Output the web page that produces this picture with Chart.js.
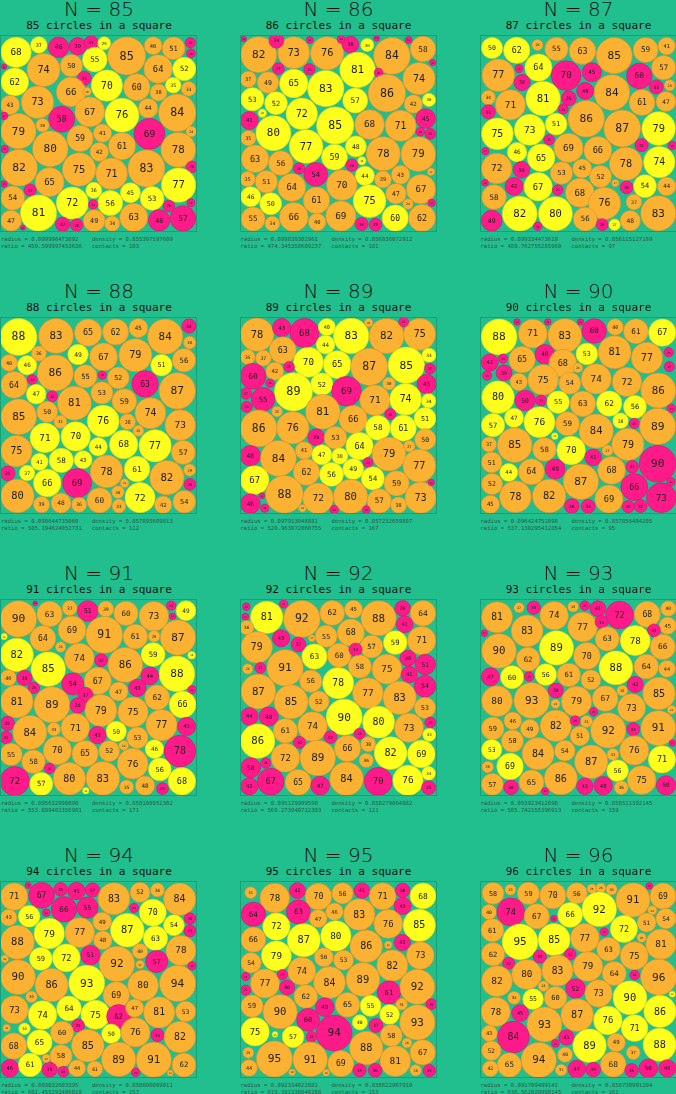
<!DOCTYPE html>
<html><head><meta charset="utf-8">
<script src="https://cdn.jsdelivr.net/npm/chart.js@4/dist/chart.umd.min.js"></script>
<style>
html,body{margin:0;padding:0;background:#21BE8E;width:676px;height:1094px;overflow:hidden;position:relative;font-family:'DejaVu Sans',sans-serif}
.t{position:absolute;width:196px;text-align:center;color:#111;font-size:20px;font-family:'DejaVu Sans';font-weight:300;line-height:20px}
.s{position:absolute;width:196px;text-align:center;color:#111;font-size:11px;font-family:'DejaVu Sans Mono',monospace;line-height:11px}
.f{position:absolute;width:196px;color:#2b5a48;font-size:5.6px;font-family:'DejaVu Sans Mono',monospace;line-height:7px;white-space:pre}
canvas{position:absolute}
</style></head><body>
<script>
const panelN=[85,86,87,88,89,90,91,92,93,94,95,96];
const radiusScale=[0.666,0.655,0.635,0.625,0.64,0.61,0.604,0.598,0.575,0.575,0.568,0.562];
const frameX=[[3,585],[8,592],[14,598]];
const footerRadius=['0.099996473892','0.099839302961','0.099334473619','0.098644735060','0.097913048881','0.096424751098','0.095632990090','0.095129999590','0.093923412090','0.093032603395','0.092334022881','0.091709499141'];
const footerDensity=['0.855397597609','0.856036072912','0.856115127189','0.857095609813','0.857232659807','0.857856484205','0.858100952302','0.858279064082','0.858511392145','0.858600009011','0.858622967910','0.858730991204'];
const footerRatio=['459.599997453636','474.345358609237','489.762755285960','505.194624052731','520.963072060755','537.130295412854','553.099402356981','569.273940712303','585.742155396913','602.455293406018','619.391330040288','636.562020998145'];
const footerContacts=[183,181,97,112,167,95,171,121,159,157,153,161];

const c85=[[68,48,67,'Y'],[37,116,45,'Y'],[46,175,52,'M'],[39,232,49,'M'],[31,272,38,'M'],[29,311,40,'Y'],[85,378,78,'O'],[40,457,47,'O'],[51,518,55,'O'],[23,568,38,'M'],[20,570,70,'M'],[74,130,120,'O'],[50,213,107,'O'],[55,283,89,'Y'],[64,472,117,'O'],[52,550,117,'Y'],[62,44,156,'Y'],[31,252,145,'M'],[70,319,167,'Y'],[60,408,172,'O'],[35,517,166,'Y'],[38,473,188,'O'],[33,563,177,'O'],[66,212,186,'O'],[19,260,185,'O'],[73,112,217,'O'],[43,30,225,'O'],[67,268,246,'O'],[76,364,256,'Y'],[44,442,235,'O'],[84,529,249,'O'],[58,184,268,'M'],[30,127,286,'O'],[79,55,304,'O'],[69,446,312,'M'],[59,239,326,'O'],[41,306,310,'O'],[24,571,305,'O'],[80,150,357,'O'],[61,364,349,'O'],[42,296,366,'O'],[78,532,360,'O'],[82,57,414,'O'],[75,236,419,'O'],[71,333,432,'O'],[83,437,416,'O'],[26,573,411,'M'],[65,148,457,'O'],[77,533,466,'Y'],[27,90,481,'M'],[36,280,482,'Y'],[45,389,489,'Y'],[54,38,505,'O'],[72,216,520,'Y'],[56,329,520,'Y'],[53,454,506,'Y'],[26,504,529,'M'],[18,570,519,'M'],[81,115,550,'Y'],[21,278,524,'M'],[47,33,573,'O'],[49,281,573,'O'],[34,335,582,'O'],[63,399,563,'O'],[48,475,572,'M'],[57,546,566,'M'],[32,187,584,'M'],[28,229,586,'M'],[12,12,110,'M'],[17,12,258,'M'],[17,14,358,'M'],[15,12,463,'M'],[11,68,594,'M']];
const c86=[[82,61,74,'O'],[73,166,68,'O'],[76,266,70,'O'],[34,114,32,'M'],[16,214,30,'M'],[38,336,44,'M'],[30,386,45,'Y'],[84,460,78,'O'],[58,553,57,'O'],[18,308,28,'M'],[13,414,25,'M'],[16,510,30,'M'],[13,16,27,'M'],[27,120,116,'M'],[26,213,118,'M'],[81,357,120,'Y'],[20,420,128,'M'],[74,541,146,'O'],[37,30,148,'O'],[49,89,158,'O'],[65,166,161,'Y'],[83,262,176,'Y'],[14,582,98,'M'],[53,42,208,'Y'],[52,113,220,'Y'],[86,445,190,'O'],[57,350,212,'Y'],[42,524,222,'O'],[30,571,210,'Y'],[72,190,252,'Y'],[19,72,250,'Y'],[41,33,272,'M'],[80,105,310,'Y'],[85,290,287,'Y'],[68,393,284,'O'],[71,486,288,'O'],[45,561,266,'M'],[35,30,325,'O'],[20,545,306,'M'],[25,575,312,'M'],[77,203,350,'Y'],[48,352,350,'Y'],[63,50,387,'O'],[56,127,400,'O'],[59,288,382,'Y'],[78,434,372,'O'],[79,539,373,'O'],[26,182,416,'M'],[54,232,434,'M'],[28,340,406,'M'],[19,370,393,'Y'],[44,379,438,'Y'],[35,28,448,'O'],[51,84,456,'O'],[64,160,473,'O'],[70,310,466,'O'],[39,433,449,'O'],[43,486,435,'O'],[17,577,426,'O'],[46,37,501,'Y'],[50,97,522,'Y'],[61,234,512,'O'],[75,393,514,'Y'],[47,472,492,'O'],[67,547,478,'O'],[24,508,523,'O'],[17,579,519,'M'],[55,44,568,'O'],[34,102,582,'O'],[66,166,562,'O'],[40,236,577,'O'],[69,307,559,'O'],[30,369,583,'M'],[29,411,585,'M'],[60,470,565,'Y'],[62,550,565,'O']];
const c87=[[50,47,54,'Y'],[62,121,61,'Y'],[26,183,45,'O'],[55,240,57,'O'],[63,318,63,'O'],[85,413,77,'O'],[59,507,60,'O'],[41,570,48,'O'],[77,66,136,'O'],[19,128,116,'M'],[64,186,113,'Y'],[70,269,137,'M'],[45,346,127,'M'],[60,488,138,'M'],[57,561,113,'O'],[38,137,158,'M'],[84,406,188,'O'],[40,326,183,'M'],[33,539,171,'M'],[26,579,166,'O'],[34,36,203,'O'],[71,102,225,'O'],[81,200,206,'Y'],[35,277,205,'M'],[61,496,218,'O'],[47,568,215,'O'],[33,36,246,'M'],[24,260,238,'M'],[86,329,267,'O'],[87,437,296,'O'],[79,546,296,'Y'],[75,63,312,'Y'],[73,160,300,'Y'],[51,239,283,'Y'],[25,218,330,'M'],[31,495,346,'M'],[20,587,347,'M'],[69,276,354,'O'],[66,364,362,'O'],[17,27,364,'M'],[46,122,367,'Y'],[65,194,384,'Y'],[72,61,416,'O'],[39,135,420,'M'],[78,448,402,'O'],[74,548,397,'Y'],[45,317,416,'O'],[53,255,430,'O'],[52,372,440,'O'],[42,113,470,'M'],[67,185,471,'Y'],[16,26,459,'M'],[17,416,460,'O'],[30,450,473,'M'],[54,505,469,'Y'],[44,570,470,'O'],[25,244,481,'M'],[68,310,489,'O'],[58,53,502,'O'],[76,384,521,'O'],[37,472,517,'O'],[83,545,551,'O'],[82,130,552,'Y'],[80,237,552,'Y'],[56,326,568,'O'],[49,46,573,'M'],[28,377,585,'M'],[27,414,585,'Y'],[48,461,573,'O'],[20,184,590,'M']];
const c88=[[88,55,75,'Y'],[83,167,72,'O'],[65,263,62,'O'],[62,345,60,'O'],[45,413,48,'O'],[84,493,74,'O'],[34,564,42,'M'],[30,566,92,'O'],[40,27,153,'O'],[46,81,160,'Y'],[36,116,125,'O'],[49,233,128,'Y'],[67,309,135,'O'],[79,404,130,'O'],[51,482,160,'Y'],[56,549,145,'O'],[86,165,183,'O'],[55,255,193,'O'],[52,353,198,'O'],[63,433,216,'M'],[87,529,237,'O'],[64,42,219,'O'],[24,96,203,'M'],[20,305,190,'M'],[47,108,247,'Y'],[26,156,253,'M'],[53,304,243,'O'],[59,371,268,'O'],[81,222,274,'O'],[85,56,315,'O'],[50,141,300,'O'],[74,449,304,'O'],[76,308,328,'Y'],[38,381,330,'O'],[31,180,330,'O'],[73,538,340,'O'],[26,413,357,'O'],[71,134,378,'Y'],[70,226,374,'Y'],[75,49,418,'O'],[44,293,405,'Y'],[68,369,398,'Y'],[77,463,402,'Y'],[57,547,422,'O'],[41,118,450,'Y'],[58,183,446,'Y'],[43,248,444,'Y'],[78,318,479,'O'],[61,409,472,'Y'],[35,23,485,'M'],[37,81,484,'Y'],[66,141,514,'Y'],[69,230,514,'M'],[82,498,498,'O'],[29,566,475,'O'],[28,567,518,'M'],[80,52,553,'O'],[39,124,579,'O'],[48,182,574,'O'],[36,236,579,'O'],[60,297,566,'O'],[30,352,541,'O'],[33,355,583,'O'],[72,418,558,'Y'],[42,487,579,'O'],[54,550,570,'O'],[21,372,514,'O']];
const c89=[[78,56,68,'O'],[43,130,47,'M'],[68,198,63,'M'],[40,265,45,'Y'],[83,338,72,'Y'],[82,444,72,'O'],[75,543,67,'O'],[20,390,32,'O'],[23,495,30,'M'],[44,261,98,'Y'],[63,133,115,'O'],[35,28,135,'O'],[37,75,139,'O'],[70,210,151,'Y'],[65,296,158,'Y'],[87,392,165,'O'],[85,503,160,'Y'],[33,571,130,'Y'],[42,109,178,'O'],[25,152,165,'M'],[60,44,193,'M'],[25,574,170,'M'],[52,250,217,'Y'],[89,165,240,'Y'],[69,324,238,'M'],[71,409,265,'O'],[74,501,262,'Y'],[45,564,216,'M'],[30,451,215,'O'],[20,95,214,'M'],[27,23,245,'M'],[55,74,262,'M'],[26,25,285,'M'],[34,570,267,'Y'],[25,116,299,'O'],[81,253,300,'O'],[66,344,323,'O'],[26,455,307,'M'],[51,559,320,'Y'],[86,61,350,'O'],[76,163,348,'O'],[58,418,348,'Y'],[61,494,349,'Y'],[39,233,376,'M'],[53,291,378,'O'],[50,560,383,'O'],[64,363,403,'Y'],[27,512,403,'O'],[79,451,427,'O'],[48,36,432,'M'],[84,120,440,'O'],[41,197,416,'O'],[47,250,429,'Y'],[38,304,433,'Y'],[77,542,462,'O'],[62,204,481,'O'],[56,279,488,'Y'],[49,344,472,'Y'],[23,388,452,'M'],[54,403,500,'Y'],[59,474,515,'O'],[67,49,505,'Y'],[88,138,548,'O'],[72,239,560,'O'],[80,336,554,'O'],[57,422,568,'O'],[38,480,580,'O'],[73,546,558,'O'],[46,36,576,'M'],[14,70,552,'M'],[19,79,590,'M'],[18,192,590,'O'],[20,287,594,'M'],[18,383,594,'M'],[15,578,512,'M']];
const c90=[[88,68,75,'Y'],[71,169,65,'O'],[83,265,71,'O'],[60,353,57,'M'],[40,416,45,'O'],[61,478,58,'O'],[67,557,62,'Y'],[16,122,30,'M'],[16,214,30,'M'],[16,312,30,'M'],[42,40,152,'M'],[23,80,140,'M'],[65,137,143,'O'],[48,205,127,'M'],[53,331,126,'Y'],[81,414,121,'O'],[77,511,138,'O'],[23,576,121,'M'],[25,578,164,'M'],[68,259,154,'O'],[24,304,168,'O'],[39,83,183,'M'],[23,32,191,'M'],[43,127,210,'O'],[75,200,204,'O'],[54,280,214,'O'],[74,359,201,'O'],[72,451,210,'O'],[86,545,236,'O'],[80,65,256,'Y'],[50,146,266,'M'],[27,194,266,'M'],[55,245,271,'Y'],[63,319,276,'O'],[62,398,275,'Y'],[56,475,285,'Y'],[21,584,290,'M'],[57,50,340,'Y'],[47,113,318,'Y'],[76,189,331,'Y'],[59,273,336,'O'],[84,359,358,'O'],[38,432,327,'Y'],[25,473,335,'M'],[89,543,344,'O'],[16,235,373,'Y'],[37,38,398,'O'],[85,115,400,'O'],[58,204,413,'O'],[70,284,416,'Y'],[41,350,437,'M'],[27,393,416,'O'],[79,454,398,'O'],[90,543,456,'M'],[51,46,452,'O'],[44,97,482,'Y'],[64,165,480,'O'],[49,236,472,'M'],[87,313,510,'O'],[68,405,476,'O'],[31,467,465,'M'],[66,473,526,'M'],[52,47,517,'O'],[78,117,555,'O'],[82,218,553,'O'],[36,286,583,'M'],[34,335,584,'M'],[69,397,562,'O'],[73,554,558,'M'],[45,42,578,'O'],[30,455,585,'M'],[32,492,583,'M'],[20,583,510,'M']];
const c91=[[90,55,75,'O'],[63,148,60,'O'],[37,208,42,'O'],[51,262,51,'M'],[39,316,45,'O'],[60,376,58,'O'],[73,459,67,'O'],[49,555,50,'Y'],[23,511,35,'M'],[16,515,67,'M'],[12,105,28,'M'],[69,215,108,'O'],[91,311,123,'O'],[61,404,128,'O'],[29,460,127,'O'],[87,531,131,'O'],[16,12,128,'Y'],[64,128,134,'O'],[26,181,159,'O'],[82,50,183,'Y'],[85,144,226,'Y'],[74,237,193,'O'],[32,302,199,'M'],[86,374,213,'O'],[59,457,182,'Y'],[19,572,184,'Y'],[88,528,240,'Y'],[40,25,252,'O'],[38,73,252,'M'],[28,101,282,'M'],[54,217,270,'M'],[67,292,261,'O'],[44,447,246,'M'],[43,410,282,'M'],[47,354,293,'O'],[62,469,311,'O'],[20,573,288,'M'],[37,255,303,'M'],[81,50,323,'O'],[89,155,333,'O'],[38,232,335,'M'],[79,301,350,'O'],[75,397,355,'O'],[66,545,332,'Y'],[35,22,389,'M'],[31,18,431,'M'],[84,89,416,'O'],[33,161,406,'O'],[71,225,402,'O'],[43,291,424,'M'],[50,347,413,'Y'],[53,410,432,'O'],[77,482,394,'O'],[45,557,398,'M'],[55,33,482,'O'],[58,100,504,'O'],[70,171,470,'O'],[65,254,480,'O'],[52,326,472,'O'],[24,369,455,'O'],[46,461,466,'Y'],[78,537,472,'M'],[76,396,510,'O'],[26,148,524,'M'],[56,477,527,'Y'],[72,44,562,'M'],[57,123,571,'Y'],[80,207,555,'O'],[83,307,554,'O'],[35,378,580,'O'],[48,433,576,'O'],[29,485,585,'M'],[68,543,563,'Y'],[16,256,591,'Y']];
const c92=[[19,24,38,'M'],[81,85,70,'Y'],[21,136,30,'M'],[92,190,75,'O'],[62,281,57,'O'],[45,345,46,'O'],[88,420,73,'O'],[39,492,43,'M'],[64,553,58,'O'],[17,21,68,'M'],[36,25,101,'O'],[42,498,91,'M'],[79,55,160,'O'],[43,128,133,'M'],[37,180,152,'M'],[55,263,127,'O'],[68,337,116,'O'],[57,399,158,'O'],[59,470,146,'Y'],[71,549,140,'O'],[17,220,133,'O'],[63,228,188,'Y'],[60,302,184,'O'],[33,351,167,'M'],[40,508,193,'M'],[51,560,212,'M'],[26,28,225,'O'],[27,66,222,'M'],[91,140,222,'O'],[58,364,218,'O'],[75,445,226,'O'],[41,512,242,'M'],[56,217,262,'O'],[78,299,268,'Y'],[77,388,298,'O'],[54,559,277,'M'],[87,60,293,'O'],[85,158,324,'O'],[52,241,323,'O'],[83,483,312,'O'],[53,559,342,'O'],[44,33,368,'M'],[48,91,368,'M'],[90,317,370,'Y'],[80,420,385,'Y'],[74,222,398,'O'],[61,141,411,'O'],[73,511,402,'O'],[27,575,386,'M'],[33,572,423,'Y'],[86,58,442,'Y'],[30,183,446,'M'],[32,276,430,'M'],[28,363,420,'M'],[66,327,464,'O'],[38,389,451,'O'],[72,141,492,'O'],[89,238,493,'O'],[82,456,478,'Y'],[69,548,481,'Y'],[36,383,500,'O'],[50,37,522,'M'],[26,82,508,'M'],[34,570,539,'Y'],[67,97,564,'M'],[65,179,566,'O'],[47,245,576,'M'],[84,324,555,'O'],[70,419,563,'M'],[76,508,560,'Y'],[43,33,578,'M'],[35,570,582,'M']];
const c93=[[81,62,70,'O'],[27,128,41,'O'],[35,172,41,'M'],[74,233,65,'O'],[28,290,38,'O'],[25,325,35,'M'],[41,364,44,'M'],[72,429,63,'M'],[68,512,61,'O'],[40,575,44,'O'],[83,152,111,'O'],[77,318,99,'O'],[34,375,84,'M'],[45,573,95,'O'],[90,68,171,'O'],[89,240,162,'Y'],[63,392,135,'O'],[78,476,140,'Y'],[66,558,159,'O'],[33,532,109,'M'],[17,24,118,'M'],[62,155,196,'O'],[70,331,186,'O'],[88,418,222,'Y'],[64,509,218,'O'],[44,571,225,'O'],[47,42,249,'M'],[60,107,250,'Y'],[25,158,248,'M'],[56,208,242,'Y'],[61,277,243,'O'],[52,343,258,'O'],[42,476,272,'M'],[80,62,322,'O'],[93,166,320,'O'],[39,238,290,'M'],[79,300,323,'O'],[67,386,314,'O'],[28,437,290,'O'],[85,547,299,'O'],[73,465,342,'O'],[24,237,330,'O'],[22,351,354,'M'],[59,49,404,'O'],[46,109,381,'O'],[49,160,405,'O'],[82,238,396,'O'],[26,296,381,'M'],[31,330,383,'O'],[92,395,410,'O'],[34,470,406,'M'],[91,545,403,'O'],[23,585,348,'O'],[58,108,442,'O'],[51,310,427,'O'],[53,46,468,'Y'],[84,185,480,'O'],[54,265,471,'O'],[76,473,470,'O'],[87,344,504,'O'],[31,409,482,'O'],[71,556,497,'Y'],[30,34,520,'O'],[69,101,518,'Y'],[56,423,531,'Y'],[86,253,554,'O'],[57,48,572,'O'],[38,104,581,'M'],[65,165,566,'O'],[75,495,559,'O'],[43,325,578,'M'],[48,380,576,'M'],[36,434,582,'O'],[50,568,575,'M'],[19,206,593,'M'],[17,587,448,'M']];
const c94=[[71,42,62,'O'],[67,124,58,'M'],[35,181,40,'M'],[45,228,45,'M'],[37,276,42,'M'],[83,340,68,'O'],[52,418,49,'O'],[36,470,42,'O'],[84,536,70,'O'],[16,84,28,'M'],[43,26,125,'O'],[56,87,121,'Y'],[20,138,110,'M'],[66,191,100,'M'],[55,261,95,'M'],[49,305,137,'O'],[24,400,96,'M'],[70,456,110,'Y'],[30,567,128,'M'],[79,147,173,'Y'],[77,238,170,'O'],[87,380,163,'Y'],[54,519,148,'Y'],[31,567,165,'M'],[88,52,199,'O'],[48,307,193,'O'],[63,464,187,'Y'],[78,540,224,'O'],[40,418,226,'O'],[51,270,238,'M'],[59,122,249,'Y'],[72,198,246,'Y'],[92,349,264,'O'],[57,468,257,'M'],[22,418,266,'O'],[20,14,249,'O'],[90,54,304,'O'],[86,154,328,'O'],[93,259,322,'Y'],[80,427,329,'O'],[94,530,323,'O'],[30,94,363,'O'],[69,347,358,'O'],[22,573,270,'M'],[73,43,402,'O'],[74,127,418,'Y'],[64,206,398,'Y'],[75,285,417,'Y'],[62,354,422,'M'],[47,402,397,'O'],[81,475,410,'O'],[53,554,407,'O'],[30,73,459,'Y'],[20,20,457,'O'],[33,233,449,'M'],[60,185,471,'O'],[50,332,474,'Y'],[76,404,470,'O'],[34,470,478,'M'],[82,537,484,'O'],[68,41,511,'O'],[65,118,500,'Y'],[85,262,510,'O'],[58,182,541,'O'],[89,354,551,'O'],[91,459,552,'O'],[62,549,568,'O'],[46,29,578,'M'],[61,90,568,'Y'],[39,148,582,'M'],[28,189,588,'M'],[44,230,578,'O'],[41,283,580,'O'],[22,138,548,'O'],[22,405,590,'M'],[16,508,592,'O']];
const c95=[[31,37,50,'O'],[78,109,66,'O'],[42,177,44,'M'],[70,240,62,'O'],[56,312,52,'O'],[41,370,44,'M'],[71,432,61,'O'],[38,492,43,'M'],[68,553,60,'Y'],[45,492,90,'M'],[64,45,115,'M'],[63,180,108,'M'],[46,288,107,'O'],[47,239,128,'O'],[83,362,116,'O'],[76,449,144,'O'],[85,542,148,'Y'],[72,114,152,'Y'],[87,196,193,'Y'],[80,292,180,'Y'],[66,45,191,'O'],[86,383,211,'O'],[43,491,200,'M'],[20,449,207,'O'],[79,114,240,'Y'],[50,256,244,'O'],[53,315,253,'O'],[73,545,239,'O'],[54,38,261,'O'],[74,190,286,'O'],[82,461,269,'O'],[22,22,302,'M'],[77,80,323,'O'],[27,132,296,'M'],[84,273,320,'O'],[89,373,311,'O'],[40,146,335,'M'],[61,451,350,'M'],[92,536,333,'O'],[62,202,362,'O'],[27,22,343,'M'],[59,41,391,'O'],[90,125,408,'O'],[49,259,394,'M'],[65,327,387,'O'],[55,396,390,'Y'],[31,489,385,'O'],[29,578,385,'M'],[52,453,416,'Y'],[60,209,432,'M'],[94,287,472,'M'],[40,364,440,'Y'],[37,412,449,'M'],[93,536,440,'O'],[75,50,468,'Y'],[15,110,476,'Y'],[57,164,483,'Y'],[28,219,483,'M'],[58,458,479,'O'],[26,505,502,'O'],[67,552,530,'O'],[88,383,517,'O'],[29,30,531,'O'],[95,108,550,'O'],[91,215,551,'O'],[69,307,564,'O'],[81,470,556,'O'],[44,32,577,'O'],[35,363,584,'M'],[36,410,584,'M'],[33,572,585,'M'],[30,531,584,'O'],[18,161,590,'O'],[18,263,591,'O']];
const c96=[[58,50,52,'O'],[29,102,41,'O'],[59,156,52,'O'],[70,229,59,'O'],[56,301,52,'O'],[25,346,38,'O'],[26,373,36,'O'],[30,405,40,'O'],[91,469,72,'O'],[69,559,60,'O'],[18,518,30,'M'],[40,38,108,'O'],[74,103,108,'M'],[67,181,121,'O'],[17,232,128,'M'],[66,281,117,'Y'],[92,368,100,'Y'],[61,48,163,'O'],[24,527,103,'O'],[51,510,140,'O'],[54,568,128,'O'],[95,131,198,'Y'],[85,233,191,'Y'],[77,325,186,'O'],[22,383,168,'M'],[72,442,159,'Y'],[81,553,205,'O'],[25,495,185,'O'],[62,50,235,'O'],[35,190,242,'M'],[31,281,235,'M'],[63,396,220,'O'],[75,473,240,'O'],[32,97,262,'M'],[80,151,296,'O'],[83,243,284,'O'],[79,334,272,'O'],[64,413,293,'O'],[26,474,298,'M'],[96,546,304,'O'],[82,62,316,'O'],[28,201,331,'O'],[52,297,338,'M'],[73,366,353,'O'],[90,460,366,'Y'],[34,113,366,'O'],[55,170,370,'Y'],[60,237,366,'O'],[16,587,355,'Y'],[78,58,408,'O'],[45,131,412,'M'],[93,204,446,'O'],[87,302,418,'O'],[76,394,434,'Y'],[86,550,407,'Y'],[71,474,457,'Y'],[43,39,473,'O'],[84,111,484,'M'],[41,270,485,'M'],[49,419,500,'O'],[52,45,525,'O'],[89,339,510,'Y'],[88,549,507,'Y'],[21,237,503,'M'],[40,266,537,'O'],[37,470,531,'O'],[94,187,553,'O'],[65,99,568,'O'],[68,410,566,'O'],[47,301,580,'M'],[39,350,582,'M'],[36,465,584,'M'],[50,515,578,'M'],[46,572,578,'M'],[42,42,579,'O'],[31,254,583,'O']];
const circleSets=[c85,c86,c87,c88,c89,c90,c91,c92,c93,c94,c95,c96];

const FILL={O:'#FBB232',Y:'#FFFF1E',M:'#FF1A8A'};
const EDGE={O:'#D9912A',Y:'#D8D820',M:'#D0106E'};
const colLeft=[1,240.5,480.5], rowTop=[36,318,600,882], SIDE=195;

const labelPlugin={id:'lbl',afterDatasetsDraw(chart){
  const c=chart.ctx;const meta=chart.getDatasetMeta(0);
  c.save();c.textAlign='center';c.textBaseline='middle';c.fillStyle='#222';
  meta.data.forEach((el,i)=>{const d=chart.data.datasets[0].data[i];const r=el.options.radius;
    const fs=Math.max(2.5,r*0.62);c.font=fs+'px "DejaVu Sans Mono", monospace';c.fillText(String(d.n),el.x,el.y+0.5);});
  c.restore();}};

panelN.forEach((N,p)=>{
  const col=p%3,row=Math.floor(p/3);const L=colLeft[col],T=rowTop[row];
  const fx=frameX[col];
  const t=document.createElement('div');t.className='t';t.style.left=L+'px';t.style.top=(T-37)+'px';
  t.innerHTML='N = '+N;document.body.appendChild(t);
  const s=document.createElement('div');s.className='s';s.style.left=L+'px';s.style.top=(T-16)+'px';
  s.textContent=N+' circles in a square';document.body.appendChild(s);
  const f=document.createElement('div');f.className='f';f.style.left=L+'px';f.style.top=(T+SIDE+5)+'px';
  f.textContent='radius = '+footerRadius[p]+'    density = '+footerDensity[p]+'\nratio = '+footerRatio[p]+'   contacts = '+footerContacts[p];
  document.body.appendChild(f);
  const cv=document.createElement('canvas');cv.width=SIDE;cv.height=SIDE;cv.style.left=L+'px';cv.style.top=T+'px';
  cv.style.width=SIDE+'px';cv.style.height=SIDE+'px';cv.style.outline='1px solid #1a9e74';document.body.appendChild(cv);
  const set=circleSets[p];
  const pts=set.map(a=>({x:a[1],y:a[2],n:a[0],k:a[3]}));
  new Chart(cv,{type:'bubble',data:{datasets:[{data:pts,clip:false,
    radius:ctx=>{const ca=ctx.chart.chartArea;const w=ca?ca.right-ca.left:SIDE;return ctx.raw.n*radiusScale[p]*w/(fx[1]-fx[0]);},
    backgroundColor:ctx=>FILL[ctx.raw.k],borderColor:ctx=>EDGE[ctx.raw.k],borderWidth:0.6,hoverRadius:0}]},
    options:{responsive:false,animation:false,events:[],layout:{padding:0,autoPadding:false},
      plugins:{legend:{display:false},tooltip:{enabled:false}},
      scales:{x:{type:'linear',display:false,min:fx[0],max:fx[1]},y:{type:'linear',display:false,min:18,max:604,reverse:true}}},
    plugins:[labelPlugin]});
});
</script>
</body></html>
